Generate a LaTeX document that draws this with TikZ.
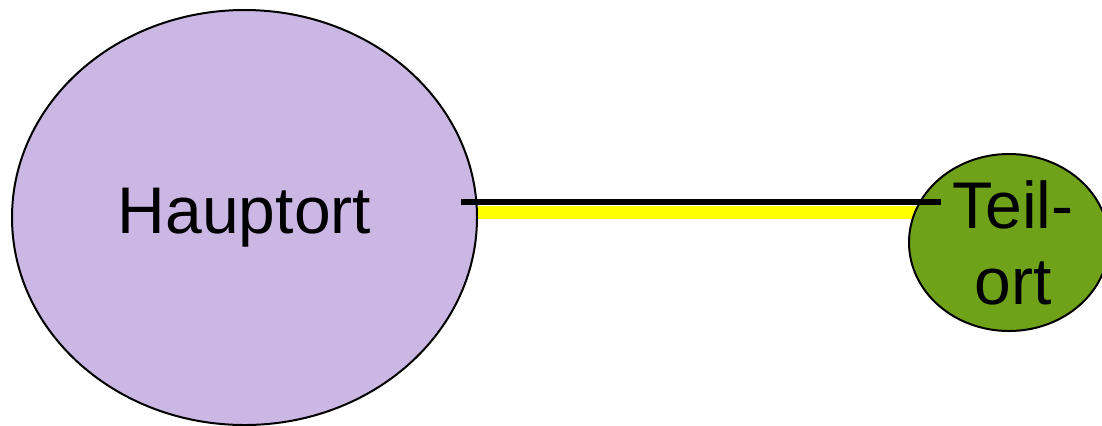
\documentclass[tikz,border=0pt]{standalone}
\usepackage{fontspec}
\setmainfont{Liberation Sans}
\usetikzlibrary{shapes.geometric,backgrounds}
\definecolor{OrtLavender}{HTML}{CBB7E3}
\definecolor{OrtGreen}{HTML}{6FA219}
\definecolor{OrtYellow}{HTML}{FFFF00}

\begin{document}
\begin{tikzpicture}[
	x=0.5pt, y=-0.5pt,
	font=\fontsize{33}{38}\selectfont,
	ort/.style={draw=black, line width=1pt, ellipse, align=center, inner sep=0pt},
	strasse/.style={draw=OrtYellow, line width=6.5pt},
	leitung/.style={draw=black, line width=3pt}
]
\useasboundingbox (0,0) rectangle (1102,425);

\node[ort, fill=OrtLavender, minimum width=232.5pt, minimum height=207.5pt] (haupt) at (244.5,217.5) {Hauptort};
\node[ort, fill=OrtGreen, minimum width=100pt, minimum height=88.5pt] (teil) at (1009,242.5) {\hspace*{4pt}Teil-\\\hspace*{4pt}ort};

\coordinate (hauptstub) at (461,202);
\coordinate (teilstub) at (941,202);

\begin{scope}[on background layer]
\draw[strasse] (haupt.center |- 0,212) -- (teil.center |- 0,212);
\end{scope}
\draw[leitung] (hauptstub) -- (teilstub);
\end{tikzpicture}
\end{document}
